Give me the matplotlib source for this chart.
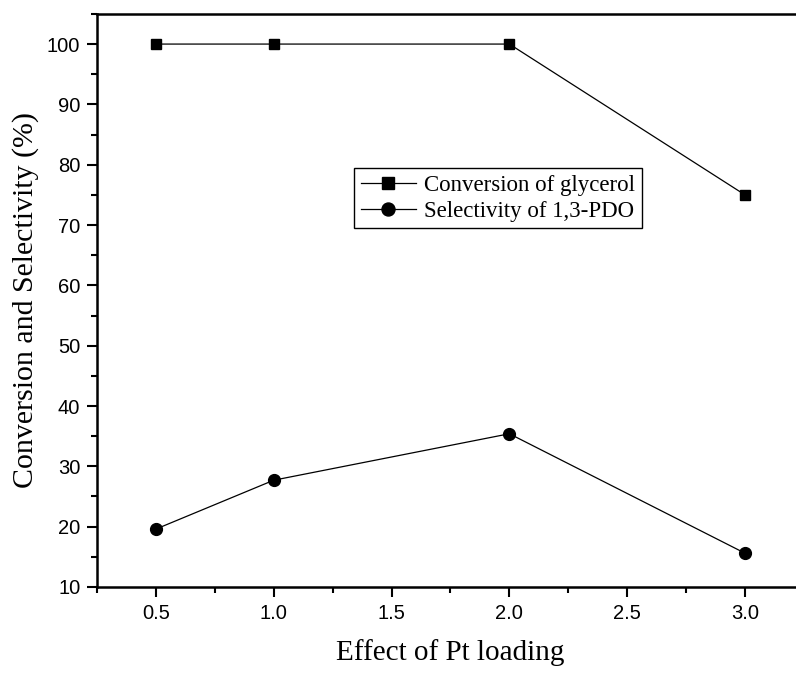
import matplotlib.pyplot as plt
from matplotlib.ticker import MultipleLocator

pt_loading = [0.5, 1.0, 2.0, 3.0]
conversion = [100, 100, 100, 75]
selectivity = [19.6, 27.7, 35.4, 15.6]

fig = plt.figure(figsize=(7.96, 6.75), dpi=100)
ax = fig.add_axes([0.1219, 0.1304, 0.888, 0.849])

ax.plot(pt_loading, conversion, color='black', lw=0.9, marker='s', ms=7.5,
        label='Conversion of glycerol')
ax.plot(pt_loading, selectivity, color='black', lw=0.9, marker='o', ms=8.5,
        label='Selectivity of 1,3-PDO')

ax.set_xlim(0.25, 3.25)
ax.set_ylim(10, 105)
ax.xaxis.set_major_locator(MultipleLocator(0.5))
ax.xaxis.set_minor_locator(MultipleLocator(0.25))
ax.yaxis.set_major_locator(MultipleLocator(10))
ax.yaxis.set_minor_locator(MultipleLocator(5))
ax.xaxis.set_major_formatter(plt.FuncFormatter(lambda v, p: f"{v:.1f}"))

for s in ax.spines.values():
    s.set_linewidth(1.8)
ax.spines['right'].set_visible(False)

ax.tick_params(which='major', direction='out', length=7, width=1.5,
               labelsize=14.5, pad=5)
ax.tick_params(which='minor', direction='out', length=4.5, width=1.5)
for lab in ax.get_xticklabels() + ax.get_yticklabels():
    lab.set_fontfamily('Liberation Sans')

ax.set_xlabel('Effect of Pt loading', family='Liberation Serif', fontsize=21, labelpad=12)
ax.set_ylabel('Conversion and Selectivity (%)', family='Liberation Serif', fontsize=21.5, labelpad=6)

leg = ax.legend(loc='upper left', bbox_to_anchor=(0.3635, 0.731), fancybox=False,
                edgecolor='black', framealpha=1, borderaxespad=0,
                prop={'family': 'Liberation Serif', 'size': 16.5},
                handlelength=2.4, handletextpad=0.35, labelspacing=0.2,
                borderpad=0.3, markerscale=1.1)
leg.get_frame().set_linewidth(1.0)

fig.savefig('out.png', dpi=100)
